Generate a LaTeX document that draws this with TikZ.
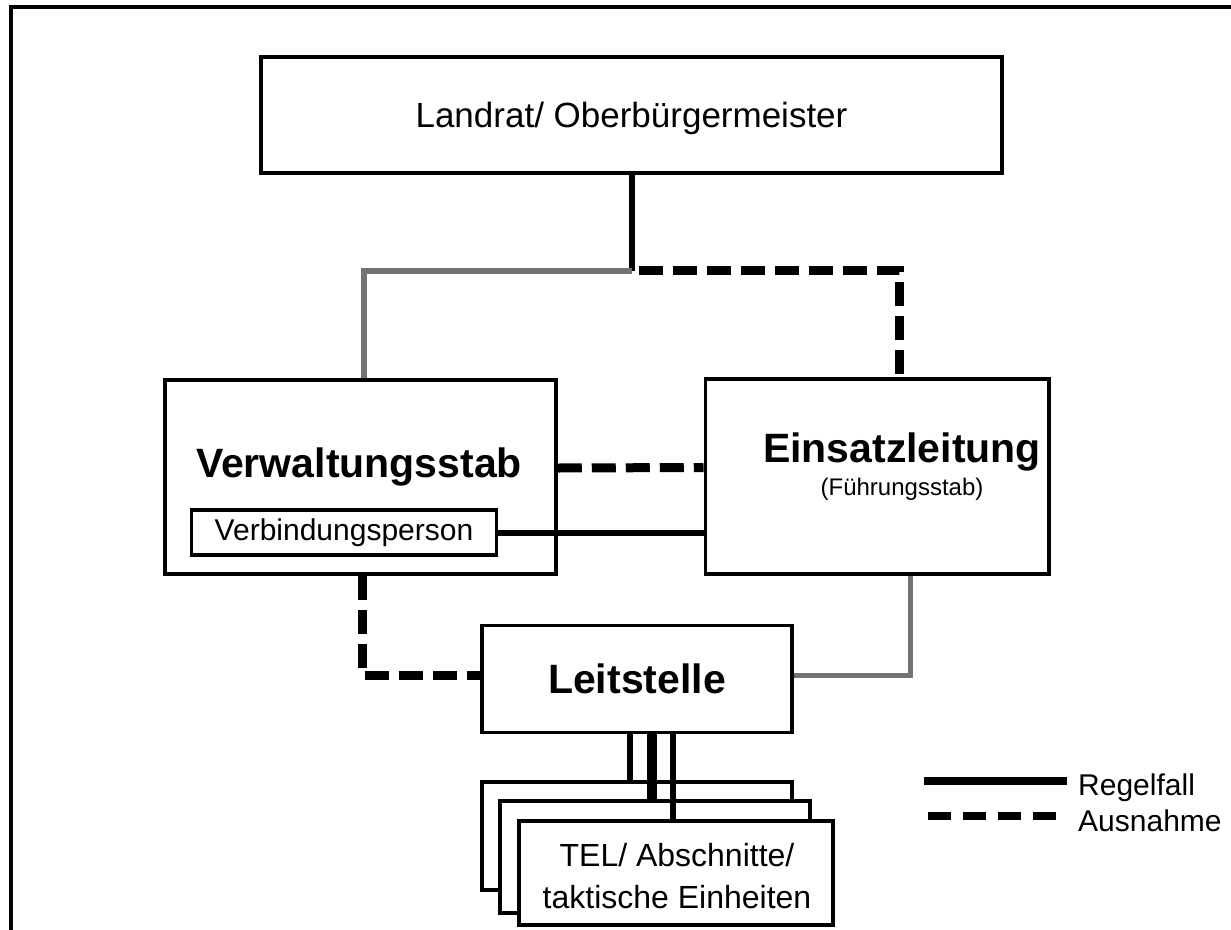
\documentclass[tikz,border=0pt]{standalone}
\usepackage{fontspec}
\setmainfont{Liberation Sans}
\usetikzlibrary{calc}
\tikzset{box/.style={draw, line width=3.5pt, fill=white, inner sep=0pt},
titel/.style={font=\fontsize{41}{48}\selectfont\bfseries},
normal/.style={font=\fontsize{30}{41}\selectfont},
regel/.style={draw, line width=6pt},
regelgrau/.style={draw, black!55, line width=6pt},
ausnahme/.style={draw, line width=9pt, dash pattern=on 24pt off 10pt}}

\begin{document}
\begin{tikzpicture}[x=1pt,y=-1pt]
    \useasboundingbox (0,0) rectangle (1231,929);
    % Rahmen
    \draw[line width=4pt] (11,935) -- (11,7) -- (1240,7);

    % Kaesten
    \node[box, text depth=0pt, minimum width=741pt, minimum height=116pt, font=\fontsize{35}{42}\selectfont] (landrat) at (631.5,115) {Landrat/ Oberbürgermeister};
    \node[box, minimum width=391pt, minimum height=194pt] (verwaltung) at (360.5,477) {};
    \node[titel, anchor=base] (verwaltungtext) at (359,477) {Verwaltungsstab};
    \node[box, normal, minimum width=305pt, minimum height=45pt] (verbindung) at (344,532.5) {Verbindungsperson};
    \node[box, minimum width=343.5pt, minimum height=195pt] (einsatz) at (877,476.5) {};
    \node[titel, anchor=base] (einsatztext) at (902,462) {Einsatzleitung};
    \node[font=\fontsize{24}{30}\selectfont, anchor=base] (fuehrung) at (902,495) {(Führungsstab)};
    \node[box, titel, minimum width=310pt, minimum height=107pt] (leitstelle) at (637,679) {Leitstelle};
    \node[box, minimum width=310pt, minimum height=108pt] (tel1) at (637,836) {};
    \node[box, minimum width=310pt, minimum height=112pt] (tel2) at (655,857) {};
    \node[box, minimum width=314pt, minimum height=104pt] (tel3) at (676,873) {};
    \node[font=\fontsize{32}{42}\selectfont, align=center, inner sep=0pt] (teltext) at (677,876) {TEL/ Abschnitte/\\taktische Einheiten};

    % Verbindungen
    \coordinate (knick) at ($(landrat.south)+(0,96)$);
    \draw[regel] (landrat.south) -- (knick);
    \draw[regelgrau] (knick) -| ([xshift=3pt]verwaltung.north);
    \draw[ausnahme] ([xshift=7pt]knick) -| ([xshift=22pt]einsatz.north);
    \draw[ausnahme] ([yshift=9pt]verwaltung.east) -- ([yshift=9pt]einsatz.west);
    \draw[regel] (verbindung.east) -- (verbindung.east -| einsatz.west);
    \draw[ausnahme] ([xshift=1.5pt]verwaltung.south) |- ([yshift=4pt]leitstelle.west);
    \draw[regelgrau, line width=5pt] ([xshift=33pt]einsatz.south) |- ([yshift=4pt]leitstelle.east);
    \draw[regel] ([xshift=-7pt]leitstelle.south) -- ([xshift=-7pt]leitstelle.south |- tel1.north);
    \draw[regel, line width=10pt] ([xshift=15pt]leitstelle.south) -- ([xshift=15pt]leitstelle.south |- tel2.north);
    \draw[regel] ([xshift=36pt]leitstelle.south) -- ([xshift=36pt]leitstelle.south |- tel3.north);

    % Legende
    \coordinate (regelA) at (924,781);
    \coordinate (regelB) at (1067,781);
    \coordinate (ausnahmeA) at (928,816);
    \coordinate (ausnahmeB) at (1060,816);
    \draw[regel, line width=8pt] (regelA) -- (regelB);
    \draw[ausnahme, line width=8pt, dash pattern=on 23pt off 12pt] (ausnahmeA) -- (ausnahmeB);
    \node[normal, anchor=base west, inner sep=0pt] (regeltext) at (1078,795) {Regelfall};
    \node[normal, anchor=base west, inner sep=0pt] (ausnahmetext) at (1078,831) {Ausnahme};
\end{tikzpicture}
\end{document}
